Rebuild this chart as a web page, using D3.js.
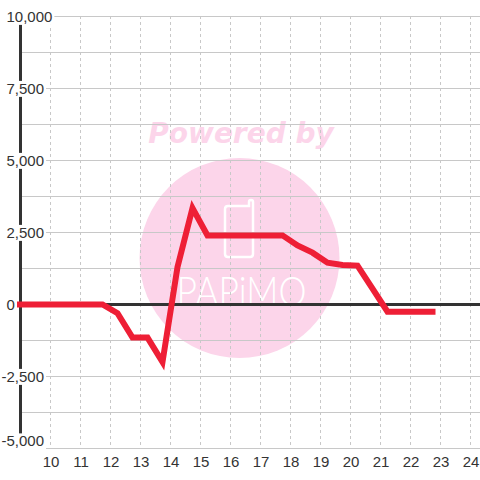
<!DOCTYPE html>
<html>
<head>
<meta charset="utf-8">
<script src="https://cdn.jsdelivr.net/npm/d3@7/dist/d3.min.js"></script>
<style>
  html, body { margin: 0; padding: 0; background: #fff; }
  svg { display: block; }
</style>
</head>
<body>
<script>
// ---- data ----
const hours  = [9, 11.75, 12.25, 12.75, 13.25, 13.75, 14.25, 14.75, 15.25, 15.75, 16.25, 16.75, 17.25, 17.75, 18.25, 18.75, 19.25, 19.75, 20.25, 20.75, 21.25, 21.75, 22.25, 22.75];
const values = [0, 0, -300, -1150, -1150, -2000, 1300, 3350, 2400, 2400, 2400, 2400, 2400, 2400, 2050, 1800, 1450, 1375, 1350, 550, -250, -250, -250, -250];
const xTicks = [10, 11, 12, 13, 14, 15, 16, 17, 18, 19, 20, 21, 22, 23, 24];
const yTicks = [-5000, -2500, 0, 2500, 5000, 7500, 10000];
const yGrid  = [-5000, -3750, -2500, -1250, 0, 1250, 2500, 3750, 5000, 6250, 7500, 8750, 10000];

const W = 480, H = 480;
const pL = 20, pR = 480, pT = 16, pB = 448;

const svg = d3.select("body").append("svg").attr("width", W).attr("height", H);
svg.append("rect").attr("width", W).attr("height", H).attr("fill", "#ffffff");

const x = d3.scaleLinear().domain([9, 9 + (pR - pL) / 30]).range([pL, pR]);
const y = d3.scaleLinear().domain([-5000, 10000]).range([pB + 0.5, pT + 0.5]);

// ---- watermark ----
const wm = svg.append("g");
const cx = 239.5, cy = 258, r = 100;
wm.append("circle").attr("cx", cx).attr("cy", cy).attr("r", r).attr("fill", "#fcd5ea");
wm.append("text").attr("x", 241).attr("y", 143).attr("text-anchor", "middle")
  .attr("font-family", "DejaVu Sans").attr("font-weight", "bold").attr("font-style", "oblique")
  .attr("font-size", 28).attr("fill", "#fcd5ea").text("Powered by");
// phone outline
const px0 = cx - 14.5, px1 = cx + 13.5, py0 = cy - 52, py1 = cy - 1, tab = cx + 9.5;
wm.append("path")
  .attr("d", `M${px0},${py0+3} Q${px0},${py0} ${px0+3},${py0} L${tab},${py0} L${tab},${py0-4} Q${tab},${py0-6} ${tab+2},${py0-6} Q${px1},${py0-6} ${px1},${py0-4} L${px1},${py1-3} Q${px1},${py1} ${px1-3},${py1} L${px0+3},${py1} Q${px0},${py1} ${px0},${py1-3} Z`)
  .attr("fill", "none").attr("stroke", "#ffffff").attr("stroke-width", 2.5);
wm.append("text").attr("x", cx + 2).attr("y", cy + 48).attr("text-anchor", "middle")
  .attr("font-family", "Lato, Roboto, sans-serif").attr("font-weight", 300)
  .attr("font-size", 42).attr("fill", "#ffffff")
  .attr("textLength", 130).attr("lengthAdjust", "spacingAndGlyphs")
  .text("PAPiMO");

// ---- grid ----
svg.append("g").selectAll("line").data(yGrid).join("line")
  .attr("x1", pL).attr("x2", pR)
  .attr("y1", d => Math.round(y(d) - 0.5) + 0.5).attr("y2", d => Math.round(y(d) - 0.5) + 0.5)
  .attr("stroke", "#c8c8c8").attr("stroke-width", 1);
svg.append("g").selectAll("line").data(xTicks).join("line")
  .attr("x1", d => x(d) + 0.5).attr("x2", d => x(d) + 0.5)
  .attr("y1", pT).attr("y2", pB)
  .attr("stroke", "#c8c8c8").attr("stroke-width", 1).attr("stroke-dasharray", "3,3");

// ---- axes lines ----
svg.append("line").attr("x1", pL + 0.5).attr("x2", pL + 0.5).attr("y1", pT).attr("y2", pB)
  .attr("stroke", "#333333").attr("stroke-width", 3);
svg.append("line").attr("x1", pL).attr("x2", pR).attr("y1", y(0)).attr("y2", y(0))
  .attr("stroke", "#333333").attr("stroke-width", 3);

// ---- series ----
const line = d3.line().x((d, i) => x(hours[i])).y(d => y(d));
svg.append("path").datum(values).attr("d", line)
  .attr("fill", "none").attr("stroke", "#ee1f36").attr("stroke-width", 6)
  .attr("stroke-linecap", "square").attr("stroke-linejoin", "miter");

// ---- y labels with background ----
const yl = svg.append("g");
yTicks.forEach(v => {
  const g = yl.append("g");
  const t = g.append("text")
    .attr("x", v < 0 ? 1.5 : 6.5).attr("y", y(v)).attr("dy", "0.36em")
    .attr("font-family", "Liberation Sans, Arial, sans-serif").attr("font-size", 15)
    .attr("fill", "#333333").text(d3.format(",")(v).replace("−", "-"));
  let bb = t.node().getBBox();
  const capBottom = y(v) + 6;
  if (capBottom > pB) {
    t.attr("y", y(v) - (capBottom - pB) - 1);
    bb = t.node().getBBox();
  }
  g.insert("rect", "text")
    .attr("x", bb.x - 1).attr("y", bb.y + 1).attr("width", bb.width + 3).attr("height", bb.height - 1)
    .attr("fill", "#ffffff");
});

// ---- x labels ----
svg.append("g").selectAll("text").data(xTicks).join("text")
  .attr("x", d => x(d) + 1).attr("y", 467).attr("text-anchor", "middle")
  .attr("font-family", "Liberation Sans, Arial, sans-serif").attr("font-size", 15)
  .attr("fill", "#333333").text(d => d);
</script>
</body>
</html>
